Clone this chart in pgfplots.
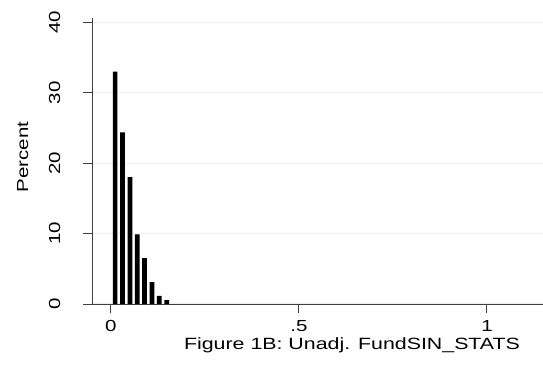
\documentclass[border=0pt]{standalone}
\usepackage{pgfplots}
\pgfplotsset{compat=1.18}
\usepackage{fontspec}
\setmainfont{Liberation Sans}
\definecolor{gridc}{HTML}{E8F0F2}
\definecolor{spine}{HTML}{404040}
\newcommand{\wt}[1]{\scalebox{1.28}[1]{#1}}
\begin{document}
\begin{tikzpicture}[x=1pt,y=1pt]
\path[use as bounding box] (0,0) rectangle (543,372);
\begin{axis}[
  at={(92pt,68pt)}, anchor=south west,
  scale only axis, width=451pt, height=286pt,
  xmin=-0.05, xmax=1.149, ymin=0, ymax=40.6,
  axis x line*=bottom, axis y line*=left,
  axis line style={spine, line width=1pt},
  xtick={0,0.5,1}, xticklabels={\wt{0},\wt{.5},\wt{1}},
  ytick={0,10,20,30,40}, yticklabels={\wt{0},\wt{10},\wt{20},\wt{30},\wt{40}},
  tick align=outside, major tick length=9pt,
  tick style={spine, line width=1pt},
  ymajorgrids, grid style={gridc, line width=1.2pt},
  xticklabel style={font=\fontsize{16}{19}\selectfont, anchor=base, yshift=-18pt},
  yticklabel style={font=\fontsize{16}{19}\selectfont, xshift=-23pt, rotate=90, anchor=base},
  clip=false,
]
\addplot[ybar, bar width=0.0125, fill=black, draw=none] coordinates {
(0.0115,33.0) (0.0312,24.35) (0.0508,18.0) (0.0703,9.9) (0.0898,6.5) (0.1094,3.1) (0.1290,1.15) (0.1485,0.55)
};
\end{axis}
\node[anchor=base, rotate=90, font=\fontsize{16}{19}\selectfont] at (28,215) {\wt{Percent}};
\node[anchor=base, font=\fontsize{16.3}{19}\selectfont] at (352,23) {\scalebox{1.31}[1]{Figure 1B: Unadj. FundSIN\_STATS}};
\end{tikzpicture}
\end{document}
